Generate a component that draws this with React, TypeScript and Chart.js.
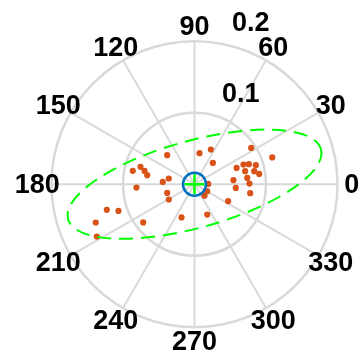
import React, { useEffect, useRef } from "react";
import { Chart, registerables } from "chart.js";

Chart.register(...registerables);

// Polar data: angle (degrees) and radius
const THETA_DEG = [
  32.6, 19.0, 64.8, 80.8, 49.3, 21.2, 21.9, 20.2, 17.2, 14.4,
  12.3, 9.0, 6.8, 5.9, 0.7, 354.9, 350.8, 333.2, 1.3, 331.1,
  311, 292.7, 248.7, 133.3, 167.5, 175.9, 197.7, 210.8, 167.8, 162.2,
  165.1, 169.2, 183.3, 196.3, 199.4, 201.2, 208.2, 216.7,
];
const RHO = [
  0.0941, 0.115, 0.0536, 0.0439, 0.0393, 0.0631, 0.0738, 0.081, 0.0898, 0.0731,
  0.0855, 0.0916, 0.0743, 0.0548, 0.0769, 0.058, 0.0789, 0.0527, 0.0192, 0.0203,
  0.0213, 0.046, 0.0499, 0.0557, 0.0368, 0.0445, 0.0401, 0.0418, 0.0883, 0.0793,
  0.0723, 0.0673, 0.0813, 0.1278, 0.1127, 0.1481, 0.155, 0.0895,
];

const ANGLE_TICKS = [0, 30, 60, 90, 120, 150, 180, 210, 240, 270, 300, 330];
const RADIAL_TICKS = [0.1, 0.2];
const RMAX = 0.2;

// Fitted ellipse (centre, semi-axes, tilt in degrees)
const ELLIPSE_CENTER = [0, 0];
const ELLIPSE_A = 0.1835;
const ELLIPSE_B = 0.0608;
const ELLIPSE_TILT_DEG = 15.5;

const CENTER_POINT = [{ x: 0, y: 0 }];

const FONT = "bold 27px 'Liberation Sans', Arial, sans-serif";

const polarGrid = {
  id: "polarGrid",
  beforeDatasetsDraw(chart: any) {
    const { ctx, scales } = chart;
    const xs = scales.x;
    const ys = scales.y;
    const px = (v: number) => xs.getPixelForValue(v);
    const py = (v: number) => ys.getPixelForValue(v);
    const cx = px(0);
    const cy = py(0);
    ctx.save();
    ctx.strokeStyle = "#d9d9d9";
    ctx.lineWidth = 2.5;
    RADIAL_TICKS.forEach((r) => {
      const rp = px(r) - cx;
      ctx.beginPath();
      ctx.arc(cx, cy, rp, 0, Math.PI * 2);
      ctx.stroke();
    });
    ctx.lineWidth = 2;
    ANGLE_TICKS.forEach((a) => {
      const t = (a * Math.PI) / 180;
      ctx.beginPath();
      ctx.moveTo(cx, cy);
      ctx.lineTo(px(RMAX * Math.cos(t)), py(RMAX * Math.sin(t)));
      ctx.stroke();
    });
    ctx.fillStyle = "#000";
    ctx.font = FONT;
    ctx.textAlign = "center";
    ctx.textBaseline = "middle";
    ANGLE_TICKS.forEach((a) => {
      const t = (a * Math.PI) / 180;
      const rt = RMAX * 1.1;
      ctx.fillText(String(a), px(rt * Math.cos(t)), py(rt * Math.sin(t)) + 1);
    });
    ctx.textAlign = "left";
    ctx.textBaseline = "bottom";
    const t82 = (82 * Math.PI) / 180;
    RADIAL_TICKS.forEach((r) => {
      const rr = r + 0.1 / 20;
      ctx.fillText("  " + String(r), px(rr * Math.cos(t82)) + 2, py(rr * Math.sin(t82)) - 2);
    });
    ctx.restore();
  },
  afterDatasetsDraw(chart: any) {
    const { ctx, scales } = chart;
    const xs = scales.x;
    const ys = scales.y;
    const ex = xs.getPixelForValue(ELLIPSE_CENTER[0]);
    const ey = ys.getPixelForValue(ELLIPSE_CENTER[1]);
    const ra = xs.getPixelForValue(ELLIPSE_A) - xs.getPixelForValue(0);
    const rb = xs.getPixelForValue(ELLIPSE_B) - xs.getPixelForValue(0);
    ctx.save();
    ctx.strokeStyle = "#00ff00";
    ctx.lineWidth = 2;
    ctx.setLineDash([14, 8]);
    ctx.beginPath();
    ctx.ellipse(ex, ey, ra, rb, (-ELLIPSE_TILT_DEG * Math.PI) / 180, 0, Math.PI * 2);
    ctx.stroke();
    ctx.restore();
  },
};

export default function App() {
  const ref = useRef<HTMLCanvasElement>(null);
  useEffect(() => {
    if (!ref.current) return;
    const pts = THETA_DEG.map((a, i) => ({
      x: RHO[i] * Math.cos((a * Math.PI) / 180),
      y: RHO[i] * Math.sin((a * Math.PI) / 180),
    }));
    const W = 361, H = 358;
    const CX = 194.5, CY = 184.2, RPX = 143;
    const k = RMAX / RPX;
    const chart = new Chart(ref.current, {
      type: "scatter",
      data: {
        datasets: [
          {
            data: CENTER_POINT,
            pointStyle: "cross",
            pointRadius: 10,
            borderColor: "#00ff00",
            borderWidth: 2.5,
            order: 0,
          } as any,
          {
            data: CENTER_POINT,
            pointStyle: "circle",
            pointRadius: 11.5,
            borderColor: "#0072BD",
            backgroundColor: "rgba(0,0,0,0)",
            borderWidth: 2.5,
            order: 1,
          } as any,
          {
            data: pts,
            pointRadius: 3.1,
            borderWidth: 0,
            backgroundColor: "#D95319",
            borderColor: "#D95319",
            order: 2,
          },
        ],
      },
      options: {
        animation: false,
        responsive: false,
        events: [],
        layout: { padding: 0, autoPadding: false },
        plugins: { legend: { display: false }, tooltip: { enabled: false } },
        scales: {
          x: { type: "linear", display: false, bounds: "data", min: -CX * k, max: (W - CX) * k },
          y: { type: "linear", display: false, bounds: "data", min: -(H - CY) * k, max: CY * k },
        },
      },
      plugins: [polarGrid],
    });
    return () => chart.destroy();
  }, []);
  return (
    <div style={{ position: "fixed", left: 0, top: 0, width: 361, height: 358, background: "#fff" }}>
      <canvas ref={ref} width={361} height={358} style={{ width: 361, height: 358 }} />
    </div>
  );
}
